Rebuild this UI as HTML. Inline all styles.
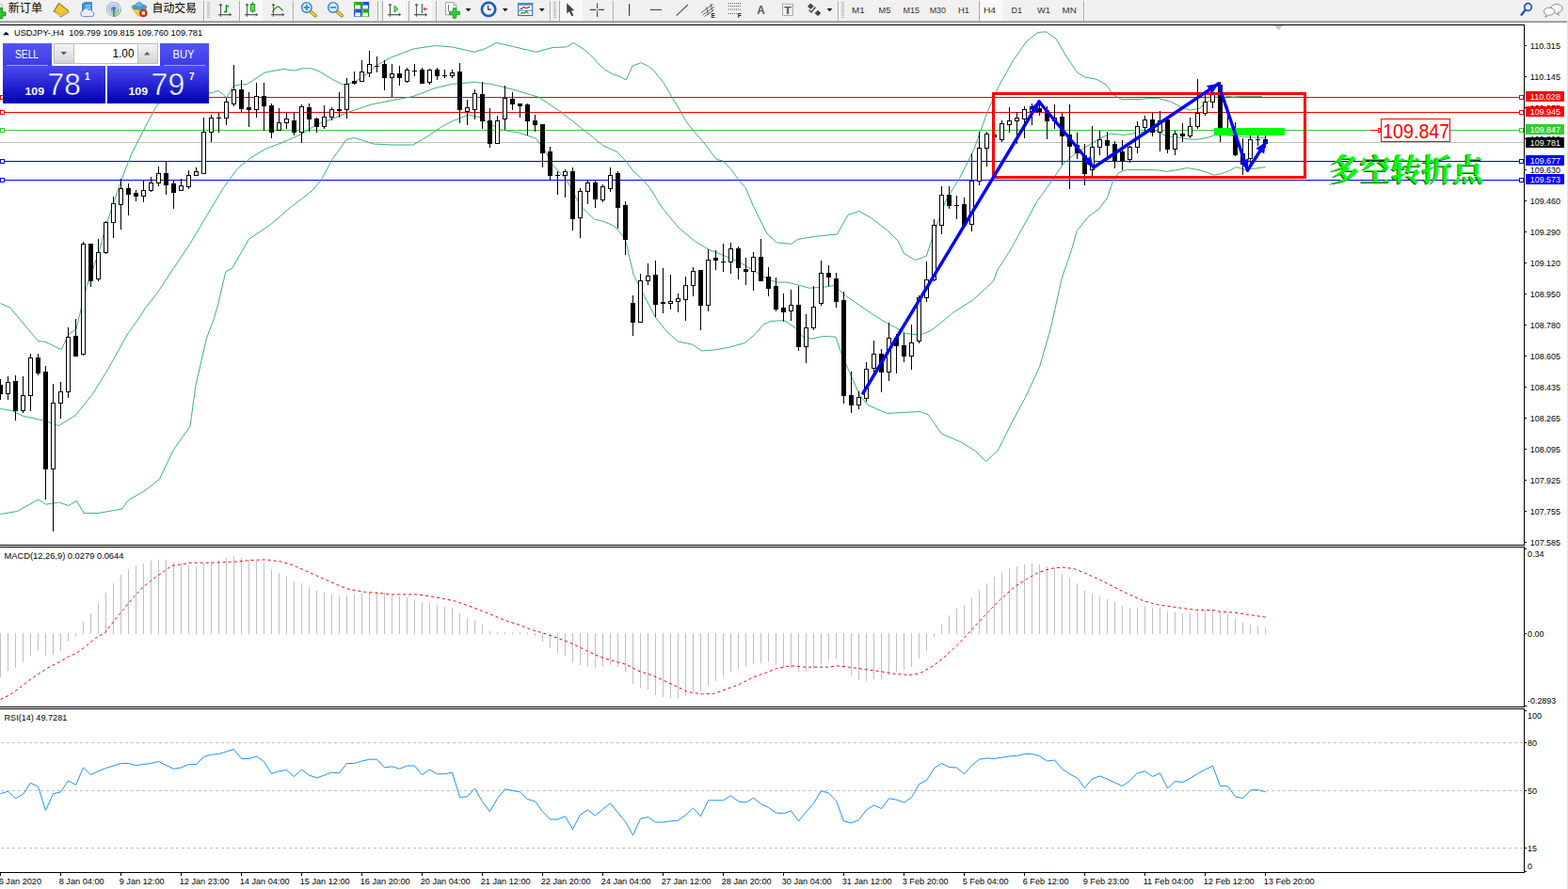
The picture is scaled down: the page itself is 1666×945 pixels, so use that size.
<!DOCTYPE html><html><head><meta charset="utf-8"><title>USDJPY H4</title><style>html,body{margin:0;padding:0;background:#fff}body{width:1666px;height:945px;overflow:hidden;position:relative;font-family:"Liberation Sans",sans-serif}</style></head><body><svg width="1666" height="945" viewBox="0 0 1666 945" font-family="Liberation Sans, sans-serif" style="position:absolute;left:0;top:0">
<defs><linearGradient id="tb" x1="0" y1="0" x2="0" y2="1"><stop offset="0" stop-color="#f3f3f3"/><stop offset="1" stop-color="#eeeeee"/></linearGradient><linearGradient id="pb" x1="0" y1="0" x2="0" y2="1"><stop offset="0" stop-color="#4a4af0"/><stop offset="1" stop-color="#0000b4"/></linearGradient><linearGradient id="pt" x1="0" y1="0" x2="0" y2="1"><stop offset="0" stop-color="#5454f4"/><stop offset="1" stop-color="#3c3ce4"/></linearGradient><linearGradient id="pbu" gradientUnits="userSpaceOnUse" x1="0" y1="70" x2="0" y2="110"><stop offset="0" stop-color="#4a4af0"/><stop offset="1" stop-color="#0000b4"/></linearGradient><linearGradient id="bt" x1="0" y1="0" x2="0" y2="1"><stop offset="0" stop-color="#f4f4f4"/><stop offset="1" stop-color="#d4d4d4"/></linearGradient></defs>
<rect x="0" y="0" width="1666" height="945" fill="#fff" />
<g shape-rendering="crispEdges">
<rect x="0" y="103" width="1619" height="1" fill="#ff0000" />
<rect x="0" y="119" width="1619" height="1" fill="#ff0000" />
<rect x="0" y="138" width="1619" height="1" fill="#32cd32" />
<rect x="0" y="151" width="1619" height="1" fill="#c0c0c0" />
<rect x="0" y="171" width="1619" height="1" fill="#0000ff" />
<rect x="0" y="191" width="1619" height="1" fill="#0000ff" />
</g>
<polyline points="0.5,322.5 10.9,327.2 40.5,362.5 47.9,363.3 65.1,371.5 73.1,355.3 81.1,349.5 86.5,326.5 92.4,303.5 105.1,267.9 113.1,238.3 129.1,190.9 139.5,164.2 154.5,134.5 166.5,112.5 180.5,98.5 195.5,92.5 210.5,97.5 224.8,98.8 232,96.5 236.5,100 240.7,103.8 247.9,91.5 254.5,90 262.3,89.4 269.5,85.1 281,77.2 292.5,75 301.2,73.5 312.7,75 321.4,72.8 331.5,72.8 340.1,76.4 353.1,84.4 363.2,89.4 367.5,90.1 377.5,86.5 386.2,81.5 400.5,69.2 415,61.3 439.5,51.9 462.5,48.5 480.5,50 504.2,55.3 516.1,51.5 527.5,45.5 545.5,49.5 569.5,55.3 587.2,50.5 601.5,50 609.5,45.5 620.9,52.7 630.5,61.7 637.3,69.3 642.4,73.9 650.8,78.6 659.3,81.7 665.2,84.9 672,70.1 681.3,66.7 688.1,70.1 694.9,75.2 705,87.9 713.5,102.3 723.6,119.2 728.7,128.5 737.2,139.5 749,153.1 760.9,169.2 767.7,170.9 777.8,181.1 784.6,191.2 792.2,199.7 800.5,219.4 815.3,249 825.5,257.9 840.5,259.4 847.9,254.4 865.5,251.4 889.4,249 901.2,228.3 913.1,224.5 924.9,231.2 942.5,244.5 954.5,256.5 960.5,269.4 972.4,276.5 984.2,272.4 993.1,245.5 1004.9,213.1 1019.5,189.4 1034.5,159.5 1049.4,118.3 1061.2,91.5 1076.1,64.9 1090.5,44.2 1102.5,34.5 1111.5,33.8 1122,41.2 1132.4,59 1144.2,76.8 1153.1,82.1 1164.9,84.2 1175.3,90.1 1182.5,100.5 1191.5,105.5 1212.4,105.5 1221.2,104.4 1230.5,104.5 1242.4,107.5 1254.2,113.5 1264.5,117.2 1275,115 1279.5,110.5 1290.5,103.5 1301.5,101.9 1310.5,103.1 1319.5,102.4 1340.9,102.4" fill="none" stroke="#3cb371" stroke-width="1" />
<polyline points="0.5,434.5 12.5,436.5 24.2,442.1 47.9,447.5 62.5,452.5 80.5,441.2 98.3,419 113.1,395.3 136.5,353.5 147.2,339 154.5,327.2 166.5,312.4 184.2,285.5 202,259 219.5,229.5 237.5,199.5 252.5,179 267.2,167.2 282,158.3 296.5,152.9 311.5,146.5 320.5,142.5 336.5,132.4 353.1,126.5 368.5,119.9 394.5,111 418.3,106.3 439,102.5 462.5,93.5 480.5,89.4 504.2,87.3 522,89.4 545.5,95.3 572.4,103.3 596.1,119 616.5,135.3 630.5,146.3 640.7,154.8 655.9,161.5 666.1,172.5 672.8,181.9 683,191.2 690.5,199.7 702.5,219.5 720.5,241.5 738.3,256.5 753.1,265.3 767.9,271.2 785.5,278.5 800.5,287.5 815.3,296.5 825.5,300 836.1,300 847.9,302.9 859.5,306.2 874.5,305.3 886.5,303.5 898.3,314.2 913.1,324.5 930.9,336.5 945.5,345.3 950.5,347.5 962.4,354.5 977.2,356.1 989,351.5 1000.5,342.5 1012.5,332.4 1033.5,319 1048.3,305.5 1055.3,299 1060.1,286.5 1073.1,266.5 1087.9,239.5 1102.5,213.1 1117.5,192.4 1129.4,174.5 1141.2,164.2 1153.1,156.5 1167.9,147.9 1179.5,142 1194.5,143.5 1212.4,140.5 1227.2,139 1239.4,144.5 1252.5,146.1 1264.5,148.3 1275,147.9 1283.9,146.1 1289.5,143.9 1300.5,143.5 1320.5,145.5 1344.5,146.5" fill="none" stroke="#3cb371" stroke-width="1" />
<polyline points="0.5,546.5 18.3,543.5 40.5,531 48.8,536.1 62.5,534 73.1,537.5 81.1,532.2 89.1,545.5 104.2,545.5 129.4,541.1 136.5,531.5 154.5,521.2 169.4,509.4 184.2,478.3 202,453.1 207.9,410.1 219.5,359.5 227.2,339 231.5,324.2 239.9,288.5 246.5,285.5 264.2,254.5 287.9,238.3 308.5,220.5 320.5,211.5 332.4,202 341.2,191.5 353.1,169.4 367.9,148.5 376.5,146.5 397.5,153.1 418.3,154 439,154 453.5,145.5 468.5,135.3 480.5,128.8 498.3,122 510.1,124.9 522,132.4 533.5,138.3 551.5,141.2 569.4,147.2 578.3,159 587.2,175.3 602,191.5 616.5,218.3 631.5,233.1 640.5,235.1 652.4,240.1 664.2,253.5 673.1,292 684.9,315.5 696.8,337.9 708.5,352.5 720.5,363.1 735.3,366.1 745.5,372.9 759,372 773.5,369.5 791.5,364.5 802,355.5 810.9,345.3 818.3,341.5 833.1,340.5 844.9,348.3 853.5,358.5 862.5,360.1 874.5,357.5 887.9,358.1 893.5,374.5 901.2,392.5 913.1,419.5 922,430.5 942.5,439.5 950.5,439 977.2,437.5 986.1,440.5 1000.5,461.2 1021.5,470.1 1036.5,479.5 1047.5,490.5 1060.1,479 1074.9,449.5 1089.5,422.5 1104.5,390.1 1116.5,348.5 1128.3,295.3 1138.3,266.5 1144.2,245.5 1156.1,230.5 1167.9,222 1176.5,210.1 1182.5,192.4 1188.5,183.5 1197.5,180.5 1215.3,180.5 1230.5,180.9 1239.4,182.4 1249.5,180.9 1261.5,178.5 1275,180.9 1283.9,183.9 1289.5,186.1 1297.2,184.9 1306.1,181.5 1313.5,177.5 1322.4,180.2 1334.3,179.1 1344.5,177.5" fill="none" stroke="#3cb371" stroke-width="1" />
<g shape-rendering="crispEdges">
<rect x="0" y="403" width="1" height="22" fill="#000" />
<rect x="-2" y="409" width="5" height="10" fill="#000" />
<rect x="8" y="400" width="1" height="25" fill="#000" />
<rect x="6" y="406" width="5" height="13" fill="#000" />
<rect x="7" y="407" width="3" height="11" fill="#fff" />
<rect x="16" y="399" width="1" height="48" fill="#000" />
<rect x="14" y="405" width="5" height="32" fill="#000" />
<rect x="24" y="400" width="1" height="39" fill="#000" />
<rect x="22" y="420" width="5" height="17" fill="#000" />
<rect x="23" y="421" width="3" height="15" fill="#fff" />
<rect x="32" y="376" width="1" height="61" fill="#000" />
<rect x="30" y="380" width="5" height="41" fill="#000" />
<rect x="31" y="381" width="3" height="39" fill="#fff" />
<rect x="40" y="376" width="1" height="23" fill="#000" />
<rect x="38" y="380" width="5" height="17" fill="#000" />
<rect x="48" y="389" width="1" height="142" fill="#000" />
<rect x="46" y="395" width="5" height="104" fill="#000" />
<rect x="56" y="408" width="1" height="157" fill="#000" />
<rect x="54" y="428" width="5" height="71" fill="#000" />
<rect x="55" y="429" width="3" height="69" fill="#fff" />
<rect x="64" y="406" width="1" height="39" fill="#000" />
<rect x="62" y="416" width="5" height="13" fill="#000" />
<rect x="63" y="417" width="3" height="11" fill="#fff" />
<rect x="72" y="348" width="1" height="75" fill="#000" />
<rect x="70" y="358" width="5" height="59" fill="#000" />
<rect x="71" y="359" width="3" height="57" fill="#fff" />
<rect x="80" y="339" width="1" height="40" fill="#000" />
<rect x="78" y="357" width="5" height="22" fill="#000" />
<rect x="88" y="257" width="1" height="121" fill="#000" />
<rect x="86" y="259" width="5" height="118" fill="#000" />
<rect x="87" y="260" width="3" height="116" fill="#fff" />
<rect x="96" y="259" width="1" height="46" fill="#000" />
<rect x="94" y="259" width="5" height="40" fill="#000" />
<rect x="104" y="254" width="1" height="45" fill="#000" />
<rect x="102" y="268" width="5" height="29" fill="#000" />
<rect x="103" y="269" width="3" height="27" fill="#fff" />
<rect x="112" y="235" width="1" height="35" fill="#000" />
<rect x="110" y="236" width="5" height="33" fill="#000" />
<rect x="111" y="237" width="3" height="31" fill="#fff" />
<rect x="120" y="209" width="1" height="44" fill="#000" />
<rect x="118" y="216" width="5" height="21" fill="#000" />
<rect x="119" y="217" width="3" height="19" fill="#fff" />
<rect x="128" y="190" width="1" height="54" fill="#000" />
<rect x="126" y="200" width="5" height="18" fill="#000" />
<rect x="127" y="201" width="3" height="16" fill="#fff" />
<rect x="136" y="195" width="1" height="34" fill="#000" />
<rect x="134" y="200" width="5" height="7" fill="#000" />
<rect x="144" y="202" width="1" height="12" fill="#000" />
<rect x="142" y="205" width="5" height="4" fill="#000" />
<rect x="152" y="192" width="1" height="23" fill="#000" />
<rect x="150" y="202" width="5" height="7" fill="#000" />
<rect x="151" y="203" width="3" height="5" fill="#fff" />
<rect x="160" y="188" width="1" height="16" fill="#000" />
<rect x="158" y="194" width="5" height="9" fill="#000" />
<rect x="159" y="195" width="3" height="7" fill="#fff" />
<rect x="168" y="177" width="1" height="21" fill="#000" />
<rect x="166" y="184" width="5" height="11" fill="#000" />
<rect x="167" y="185" width="3" height="9" fill="#fff" />
<rect x="176" y="171" width="1" height="36" fill="#000" />
<rect x="174" y="184" width="5" height="13" fill="#000" />
<rect x="184" y="192" width="1" height="30" fill="#000" />
<rect x="182" y="195" width="5" height="10" fill="#000" />
<rect x="192" y="190" width="1" height="13" fill="#000" />
<rect x="190" y="197" width="5" height="6" fill="#000" />
<rect x="191" y="198" width="3" height="4" fill="#fff" />
<rect x="200" y="181" width="1" height="20" fill="#000" />
<rect x="198" y="186" width="5" height="13" fill="#000" />
<rect x="199" y="187" width="3" height="11" fill="#fff" />
<rect x="208" y="178" width="1" height="9" fill="#000" />
<rect x="206" y="182" width="5" height="5" fill="#000" />
<rect x="207" y="183" width="3" height="3" fill="#fff" />
<rect x="216" y="125" width="1" height="60" fill="#000" />
<rect x="214" y="140" width="5" height="45" fill="#000" />
<rect x="215" y="141" width="3" height="43" fill="#fff" />
<rect x="224" y="122" width="1" height="29" fill="#000" />
<rect x="222" y="125" width="5" height="16" fill="#000" />
<rect x="223" y="126" width="3" height="14" fill="#fff" />
<rect x="232" y="120" width="1" height="21" fill="#000" />
<rect x="230" y="125" width="5" height="1" fill="#000" />
<rect x="240" y="104" width="1" height="29" fill="#000" />
<rect x="238" y="108" width="5" height="18" fill="#000" />
<rect x="239" y="109" width="3" height="16" fill="#fff" />
<rect x="248" y="69" width="1" height="44" fill="#000" />
<rect x="246" y="95" width="5" height="16" fill="#000" />
<rect x="247" y="96" width="3" height="14" fill="#fff" />
<rect x="256" y="85" width="1" height="34" fill="#000" />
<rect x="254" y="95" width="5" height="21" fill="#000" />
<rect x="264" y="98" width="1" height="37" fill="#000" />
<rect x="262" y="114" width="5" height="3" fill="#000" />
<rect x="272" y="88" width="1" height="37" fill="#000" />
<rect x="270" y="102" width="5" height="15" fill="#000" />
<rect x="271" y="103" width="3" height="13" fill="#fff" />
<rect x="280" y="88" width="1" height="51" fill="#000" />
<rect x="278" y="102" width="5" height="11" fill="#000" />
<rect x="288" y="110" width="1" height="37" fill="#000" />
<rect x="286" y="112" width="5" height="29" fill="#000" />
<rect x="296" y="115" width="1" height="24" fill="#000" />
<rect x="294" y="130" width="5" height="9" fill="#000" />
<rect x="295" y="131" width="3" height="7" fill="#fff" />
<rect x="304" y="120" width="1" height="17" fill="#000" />
<rect x="302" y="126" width="5" height="5" fill="#000" />
<rect x="303" y="127" width="3" height="3" fill="#fff" />
<rect x="312" y="119" width="1" height="25" fill="#000" />
<rect x="310" y="128" width="5" height="13" fill="#000" />
<rect x="320" y="111" width="1" height="41" fill="#000" />
<rect x="318" y="113" width="5" height="28" fill="#000" />
<rect x="319" y="114" width="3" height="26" fill="#fff" />
<rect x="328" y="110" width="1" height="30" fill="#000" />
<rect x="326" y="114" width="5" height="13" fill="#000" />
<rect x="336" y="125" width="1" height="16" fill="#000" />
<rect x="334" y="126" width="5" height="9" fill="#000" />
<rect x="344" y="112" width="1" height="25" fill="#000" />
<rect x="342" y="124" width="5" height="11" fill="#000" />
<rect x="343" y="125" width="3" height="9" fill="#fff" />
<rect x="352" y="114" width="1" height="14" fill="#000" />
<rect x="350" y="116" width="5" height="9" fill="#000" />
<rect x="351" y="117" width="3" height="7" fill="#fff" />
<rect x="360" y="98" width="1" height="27" fill="#000" />
<rect x="358" y="116" width="5" height="2" fill="#000" />
<rect x="368" y="83" width="1" height="43" fill="#000" />
<rect x="366" y="89" width="5" height="28" fill="#000" />
<rect x="367" y="90" width="3" height="26" fill="#fff" />
<rect x="376" y="76" width="1" height="14" fill="#000" />
<rect x="374" y="86" width="5" height="3" fill="#000" />
<rect x="384" y="64" width="1" height="23" fill="#000" />
<rect x="382" y="76" width="5" height="11" fill="#000" />
<rect x="383" y="77" width="3" height="9" fill="#fff" />
<rect x="392" y="54" width="1" height="28" fill="#000" />
<rect x="390" y="68" width="5" height="10" fill="#000" />
<rect x="391" y="69" width="3" height="8" fill="#fff" />
<rect x="400" y="60" width="1" height="17" fill="#000" />
<rect x="398" y="70" width="5" height="1" fill="#000" />
<rect x="408" y="64" width="1" height="32" fill="#000" />
<rect x="406" y="68" width="5" height="15" fill="#000" />
<rect x="416" y="68" width="1" height="35" fill="#000" />
<rect x="414" y="78" width="5" height="5" fill="#000" />
<rect x="415" y="79" width="3" height="3" fill="#fff" />
<rect x="424" y="70" width="1" height="21" fill="#000" />
<rect x="422" y="78" width="5" height="5" fill="#000" />
<rect x="432" y="72" width="1" height="16" fill="#000" />
<rect x="430" y="74" width="5" height="13" fill="#000" />
<rect x="431" y="75" width="3" height="11" fill="#fff" />
<rect x="440" y="68" width="1" height="13" fill="#000" />
<rect x="438" y="75" width="5" height="1" fill="#000" />
<rect x="448" y="72" width="1" height="17" fill="#000" />
<rect x="446" y="74" width="5" height="15" fill="#000" />
<rect x="456" y="73" width="1" height="17" fill="#000" />
<rect x="454" y="74" width="5" height="14" fill="#000" />
<rect x="455" y="75" width="3" height="12" fill="#fff" />
<rect x="464" y="72" width="1" height="13" fill="#000" />
<rect x="462" y="74" width="5" height="7" fill="#000" />
<rect x="472" y="74" width="1" height="9" fill="#000" />
<rect x="470" y="80" width="5" height="1" fill="#000" />
<rect x="480" y="74" width="1" height="9" fill="#000" />
<rect x="478" y="77" width="5" height="4" fill="#000" />
<rect x="479" y="78" width="3" height="2" fill="#fff" />
<rect x="488" y="67" width="1" height="64" fill="#000" />
<rect x="486" y="76" width="5" height="41" fill="#000" />
<rect x="496" y="106" width="1" height="27" fill="#000" />
<rect x="494" y="114" width="5" height="5" fill="#000" />
<rect x="495" y="115" width="3" height="3" fill="#fff" />
<rect x="504" y="95" width="1" height="32" fill="#000" />
<rect x="502" y="99" width="5" height="18" fill="#000" />
<rect x="503" y="100" width="3" height="16" fill="#fff" />
<rect x="512" y="87" width="1" height="50" fill="#000" />
<rect x="510" y="100" width="5" height="29" fill="#000" />
<rect x="520" y="115" width="1" height="42" fill="#000" />
<rect x="518" y="128" width="5" height="25" fill="#000" />
<rect x="528" y="123" width="1" height="30" fill="#000" />
<rect x="526" y="128" width="5" height="25" fill="#000" />
<rect x="527" y="129" width="3" height="23" fill="#fff" />
<rect x="536" y="91" width="1" height="47" fill="#000" />
<rect x="534" y="104" width="5" height="23" fill="#000" />
<rect x="535" y="105" width="3" height="21" fill="#fff" />
<rect x="544" y="98" width="1" height="19" fill="#000" />
<rect x="542" y="105" width="5" height="6" fill="#000" />
<rect x="552" y="110" width="1" height="15" fill="#000" />
<rect x="550" y="110" width="5" height="3" fill="#000" />
<rect x="560" y="110" width="1" height="34" fill="#000" />
<rect x="558" y="111" width="5" height="18" fill="#000" />
<rect x="568" y="122" width="1" height="18" fill="#000" />
<rect x="566" y="128" width="5" height="5" fill="#000" />
<rect x="576" y="132" width="1" height="46" fill="#000" />
<rect x="574" y="132" width="5" height="31" fill="#000" />
<rect x="584" y="156" width="1" height="35" fill="#000" />
<rect x="582" y="161" width="5" height="26" fill="#000" />
<rect x="592" y="182" width="1" height="25" fill="#000" />
<rect x="590" y="186" width="5" height="1" fill="#000" />
<rect x="600" y="180" width="1" height="30" fill="#000" />
<rect x="598" y="182" width="5" height="5" fill="#000" />
<rect x="599" y="183" width="3" height="3" fill="#fff" />
<rect x="608" y="178" width="1" height="67" fill="#000" />
<rect x="606" y="182" width="5" height="51" fill="#000" />
<rect x="616" y="200" width="1" height="53" fill="#000" />
<rect x="614" y="203" width="5" height="29" fill="#000" />
<rect x="615" y="204" width="3" height="27" fill="#fff" />
<rect x="624" y="192" width="1" height="25" fill="#000" />
<rect x="622" y="194" width="5" height="10" fill="#000" />
<rect x="623" y="195" width="3" height="8" fill="#fff" />
<rect x="632" y="192" width="1" height="29" fill="#000" />
<rect x="630" y="194" width="5" height="18" fill="#000" />
<rect x="640" y="196" width="1" height="19" fill="#000" />
<rect x="638" y="198" width="5" height="15" fill="#000" />
<rect x="639" y="199" width="3" height="13" fill="#fff" />
<rect x="648" y="178" width="1" height="26" fill="#000" />
<rect x="646" y="186" width="5" height="15" fill="#000" />
<rect x="647" y="187" width="3" height="13" fill="#fff" />
<rect x="656" y="182" width="1" height="61" fill="#000" />
<rect x="654" y="184" width="5" height="37" fill="#000" />
<rect x="664" y="214" width="1" height="57" fill="#000" />
<rect x="662" y="218" width="5" height="37" fill="#000" />
<rect x="672" y="314" width="1" height="43" fill="#000" />
<rect x="670" y="322" width="5" height="21" fill="#000" />
<rect x="680" y="291" width="1" height="52" fill="#000" />
<rect x="678" y="298" width="5" height="45" fill="#000" />
<rect x="679" y="299" width="3" height="43" fill="#fff" />
<rect x="688" y="280" width="1" height="23" fill="#000" />
<rect x="686" y="293" width="5" height="6" fill="#000" />
<rect x="687" y="294" width="3" height="4" fill="#fff" />
<rect x="696" y="277" width="1" height="60" fill="#000" />
<rect x="694" y="292" width="5" height="32" fill="#000" />
<rect x="704" y="285" width="1" height="48" fill="#000" />
<rect x="702" y="321" width="5" height="2" fill="#000" />
<rect x="712" y="292" width="1" height="37" fill="#000" />
<rect x="710" y="320" width="5" height="3" fill="#000" />
<rect x="711" y="321" width="3" height="1" fill="#fff" />
<rect x="720" y="312" width="1" height="20" fill="#000" />
<rect x="718" y="317" width="5" height="4" fill="#000" />
<rect x="719" y="318" width="3" height="2" fill="#fff" />
<rect x="728" y="294" width="1" height="47" fill="#000" />
<rect x="726" y="303" width="5" height="16" fill="#000" />
<rect x="727" y="304" width="3" height="14" fill="#fff" />
<rect x="736" y="284" width="1" height="31" fill="#000" />
<rect x="734" y="288" width="5" height="16" fill="#000" />
<rect x="735" y="289" width="3" height="14" fill="#fff" />
<rect x="744" y="287" width="1" height="64" fill="#000" />
<rect x="742" y="287" width="5" height="38" fill="#000" />
<rect x="752" y="265" width="1" height="66" fill="#000" />
<rect x="750" y="276" width="5" height="49" fill="#000" />
<rect x="751" y="277" width="3" height="47" fill="#fff" />
<rect x="760" y="266" width="1" height="21" fill="#000" />
<rect x="758" y="274" width="5" height="3" fill="#000" />
<rect x="768" y="259" width="1" height="30" fill="#000" />
<rect x="766" y="278" width="5" height="1" fill="#000" />
<rect x="776" y="258" width="1" height="33" fill="#000" />
<rect x="774" y="264" width="5" height="15" fill="#000" />
<rect x="775" y="265" width="3" height="13" fill="#fff" />
<rect x="784" y="262" width="1" height="35" fill="#000" />
<rect x="782" y="264" width="5" height="21" fill="#000" />
<rect x="792" y="274" width="1" height="29" fill="#000" />
<rect x="790" y="286" width="5" height="3" fill="#000" />
<rect x="800" y="268" width="1" height="41" fill="#000" />
<rect x="798" y="273" width="5" height="16" fill="#000" />
<rect x="799" y="274" width="3" height="14" fill="#fff" />
<rect x="808" y="254" width="1" height="45" fill="#000" />
<rect x="806" y="273" width="5" height="26" fill="#000" />
<rect x="816" y="284" width="1" height="31" fill="#000" />
<rect x="814" y="294" width="5" height="13" fill="#000" />
<rect x="824" y="295" width="1" height="36" fill="#000" />
<rect x="822" y="304" width="5" height="25" fill="#000" />
<rect x="832" y="312" width="1" height="30" fill="#000" />
<rect x="830" y="327" width="5" height="5" fill="#000" />
<rect x="840" y="308" width="1" height="33" fill="#000" />
<rect x="838" y="324" width="5" height="7" fill="#000" />
<rect x="839" y="325" width="3" height="5" fill="#fff" />
<rect x="848" y="304" width="1" height="69" fill="#000" />
<rect x="846" y="324" width="5" height="45" fill="#000" />
<rect x="856" y="334" width="1" height="52" fill="#000" />
<rect x="854" y="348" width="5" height="21" fill="#000" />
<rect x="855" y="349" width="3" height="19" fill="#fff" />
<rect x="864" y="304" width="1" height="47" fill="#000" />
<rect x="862" y="326" width="5" height="23" fill="#000" />
<rect x="863" y="327" width="3" height="21" fill="#fff" />
<rect x="872" y="277" width="1" height="48" fill="#000" />
<rect x="870" y="290" width="5" height="33" fill="#000" />
<rect x="871" y="291" width="3" height="31" fill="#fff" />
<rect x="880" y="282" width="1" height="22" fill="#000" />
<rect x="878" y="290" width="5" height="5" fill="#000" />
<rect x="888" y="290" width="1" height="37" fill="#000" />
<rect x="886" y="296" width="5" height="25" fill="#000" />
<rect x="896" y="310" width="1" height="119" fill="#000" />
<rect x="894" y="319" width="5" height="102" fill="#000" />
<rect x="904" y="395" width="1" height="44" fill="#000" />
<rect x="902" y="420" width="5" height="11" fill="#000" />
<rect x="912" y="416" width="1" height="19" fill="#000" />
<rect x="910" y="422" width="5" height="9" fill="#000" />
<rect x="911" y="423" width="3" height="7" fill="#fff" />
<rect x="920" y="385" width="1" height="42" fill="#000" />
<rect x="918" y="392" width="5" height="32" fill="#000" />
<rect x="919" y="393" width="3" height="30" fill="#fff" />
<rect x="928" y="362" width="1" height="37" fill="#000" />
<rect x="926" y="376" width="5" height="16" fill="#000" />
<rect x="927" y="377" width="3" height="14" fill="#fff" />
<rect x="936" y="371" width="1" height="46" fill="#000" />
<rect x="934" y="376" width="5" height="20" fill="#000" />
<rect x="944" y="343" width="1" height="62" fill="#000" />
<rect x="942" y="359" width="5" height="37" fill="#000" />
<rect x="943" y="360" width="3" height="35" fill="#fff" />
<rect x="952" y="355" width="1" height="42" fill="#000" />
<rect x="950" y="359" width="5" height="9" fill="#000" />
<rect x="960" y="354" width="1" height="31" fill="#000" />
<rect x="958" y="367" width="5" height="12" fill="#000" />
<rect x="968" y="345" width="1" height="48" fill="#000" />
<rect x="966" y="364" width="5" height="15" fill="#000" />
<rect x="967" y="365" width="3" height="13" fill="#fff" />
<rect x="976" y="314" width="1" height="51" fill="#000" />
<rect x="974" y="316" width="5" height="47" fill="#000" />
<rect x="975" y="317" width="3" height="45" fill="#fff" />
<rect x="984" y="278" width="1" height="43" fill="#000" />
<rect x="982" y="297" width="5" height="20" fill="#000" />
<rect x="983" y="298" width="3" height="18" fill="#fff" />
<rect x="992" y="233" width="1" height="66" fill="#000" />
<rect x="990" y="239" width="5" height="59" fill="#000" />
<rect x="991" y="240" width="3" height="57" fill="#fff" />
<rect x="1000" y="198" width="1" height="51" fill="#000" />
<rect x="998" y="207" width="5" height="33" fill="#000" />
<rect x="999" y="208" width="3" height="31" fill="#fff" />
<rect x="1008" y="198" width="1" height="24" fill="#000" />
<rect x="1006" y="207" width="5" height="12" fill="#000" />
<rect x="1016" y="208" width="1" height="25" fill="#000" />
<rect x="1014" y="218" width="5" height="1" fill="#000" />
<rect x="1024" y="210" width="1" height="31" fill="#000" />
<rect x="1022" y="217" width="5" height="23" fill="#000" />
<rect x="1032" y="163" width="1" height="83" fill="#000" />
<rect x="1030" y="192" width="5" height="47" fill="#000" />
<rect x="1031" y="193" width="3" height="45" fill="#fff" />
<rect x="1040" y="140" width="1" height="57" fill="#000" />
<rect x="1038" y="157" width="5" height="36" fill="#000" />
<rect x="1039" y="158" width="3" height="34" fill="#fff" />
<rect x="1048" y="140" width="1" height="37" fill="#000" />
<rect x="1046" y="142" width="5" height="16" fill="#000" />
<rect x="1047" y="143" width="3" height="14" fill="#fff" />
<rect x="1056" y="140" width="1" height="8" fill="#000" />
<rect x="1054" y="143" width="5" height="3" fill="#000" />
<rect x="1064" y="128" width="1" height="23" fill="#000" />
<rect x="1062" y="131" width="5" height="18" fill="#000" />
<rect x="1063" y="132" width="3" height="16" fill="#fff" />
<rect x="1072" y="114" width="1" height="27" fill="#000" />
<rect x="1070" y="128" width="5" height="5" fill="#000" />
<rect x="1071" y="129" width="3" height="3" fill="#fff" />
<rect x="1080" y="119" width="1" height="34" fill="#000" />
<rect x="1078" y="125" width="5" height="4" fill="#000" />
<rect x="1079" y="126" width="3" height="2" fill="#fff" />
<rect x="1088" y="113" width="1" height="34" fill="#000" />
<rect x="1086" y="116" width="5" height="11" fill="#000" />
<rect x="1087" y="117" width="3" height="9" fill="#fff" />
<rect x="1096" y="110" width="1" height="23" fill="#000" />
<rect x="1094" y="113" width="5" height="6" fill="#000" />
<rect x="1095" y="114" width="3" height="4" fill="#fff" />
<rect x="1104" y="108" width="1" height="15" fill="#000" />
<rect x="1102" y="115" width="5" height="4" fill="#000" />
<rect x="1112" y="113" width="1" height="35" fill="#000" />
<rect x="1110" y="117" width="5" height="12" fill="#000" />
<rect x="1120" y="111" width="1" height="26" fill="#000" />
<rect x="1118" y="125" width="5" height="4" fill="#000" />
<rect x="1119" y="126" width="3" height="2" fill="#fff" />
<rect x="1128" y="120" width="1" height="55" fill="#000" />
<rect x="1126" y="124" width="5" height="21" fill="#000" />
<rect x="1136" y="111" width="1" height="90" fill="#000" />
<rect x="1134" y="143" width="5" height="13" fill="#000" />
<rect x="1144" y="141" width="1" height="28" fill="#000" />
<rect x="1142" y="154" width="5" height="9" fill="#000" />
<rect x="1152" y="153" width="1" height="44" fill="#000" />
<rect x="1150" y="165" width="5" height="20" fill="#000" />
<rect x="1160" y="134" width="1" height="53" fill="#000" />
<rect x="1158" y="156" width="5" height="25" fill="#000" />
<rect x="1159" y="157" width="3" height="23" fill="#fff" />
<rect x="1168" y="139" width="1" height="26" fill="#000" />
<rect x="1166" y="148" width="5" height="9" fill="#000" />
<rect x="1167" y="149" width="3" height="7" fill="#fff" />
<rect x="1176" y="140" width="1" height="28" fill="#000" />
<rect x="1174" y="149" width="5" height="6" fill="#000" />
<rect x="1184" y="150" width="1" height="29" fill="#000" />
<rect x="1182" y="153" width="5" height="18" fill="#000" />
<rect x="1192" y="149" width="1" height="32" fill="#000" />
<rect x="1190" y="161" width="5" height="10" fill="#000" />
<rect x="1200" y="155" width="1" height="18" fill="#000" />
<rect x="1198" y="156" width="5" height="14" fill="#000" />
<rect x="1199" y="157" width="3" height="12" fill="#fff" />
<rect x="1208" y="129" width="1" height="34" fill="#000" />
<rect x="1206" y="134" width="5" height="23" fill="#000" />
<rect x="1207" y="135" width="3" height="21" fill="#fff" />
<rect x="1216" y="123" width="1" height="17" fill="#000" />
<rect x="1214" y="127" width="5" height="9" fill="#000" />
<rect x="1215" y="128" width="3" height="7" fill="#fff" />
<rect x="1224" y="120" width="1" height="25" fill="#000" />
<rect x="1222" y="127" width="5" height="14" fill="#000" />
<rect x="1232" y="118" width="1" height="43" fill="#000" />
<rect x="1230" y="128" width="5" height="13" fill="#000" />
<rect x="1231" y="129" width="3" height="11" fill="#fff" />
<rect x="1240" y="125" width="1" height="38" fill="#000" />
<rect x="1238" y="127" width="5" height="32" fill="#000" />
<rect x="1248" y="139" width="1" height="26" fill="#000" />
<rect x="1246" y="142" width="5" height="17" fill="#000" />
<rect x="1247" y="143" width="3" height="15" fill="#fff" />
<rect x="1256" y="131" width="1" height="20" fill="#000" />
<rect x="1254" y="142" width="5" height="3" fill="#000" />
<rect x="1264" y="125" width="1" height="22" fill="#000" />
<rect x="1262" y="134" width="5" height="11" fill="#000" />
<rect x="1263" y="135" width="3" height="9" fill="#fff" />
<rect x="1272" y="84" width="1" height="53" fill="#000" />
<rect x="1270" y="120" width="5" height="15" fill="#000" />
<rect x="1271" y="121" width="3" height="13" fill="#fff" />
<rect x="1280" y="101" width="1" height="22" fill="#000" />
<rect x="1278" y="108" width="5" height="13" fill="#000" />
<rect x="1279" y="109" width="3" height="11" fill="#fff" />
<rect x="1288" y="95" width="1" height="20" fill="#000" />
<rect x="1286" y="100" width="5" height="9" fill="#000" />
<rect x="1287" y="101" width="3" height="7" fill="#fff" />
<rect x="1296" y="87" width="1" height="64" fill="#000" />
<rect x="1294" y="90" width="5" height="47" fill="#000" />
<rect x="1304" y="113" width="1" height="28" fill="#000" />
<rect x="1302" y="136" width="5" height="1" fill="#000" />
<rect x="1312" y="130" width="1" height="36" fill="#000" />
<rect x="1310" y="136" width="5" height="29" fill="#000" />
<rect x="1320" y="147" width="1" height="39" fill="#000" />
<rect x="1318" y="163" width="5" height="12" fill="#000" />
<rect x="1328" y="144" width="1" height="31" fill="#000" />
<rect x="1326" y="148" width="5" height="21" fill="#000" />
<rect x="1327" y="149" width="3" height="19" fill="#fff" />
<rect x="1336" y="144" width="1" height="11" fill="#000" />
<rect x="1334" y="148" width="5" height="1" fill="#000" />
<rect x="1344" y="144" width="1" height="13" fill="#000" />
<rect x="1342" y="148" width="5" height="5" fill="#000" />
</g>
<rect x="1055.5" y="99.5" width="331" height="89" fill="none" stroke="#ff0000" stroke-width="3" shape-rendering="crispEdges"/>
<rect x="1290" y="136" width="75" height="8" fill="#00ff00" shape-rendering="crispEdges"/>
<line x1="917" y1="418" x2="1104" y2="108" stroke="#0000ff" stroke-width="3.4" stroke-linecap="round"/>
<polygon points="1104,108 1102.5,120.5 1093.6,115.2" fill="#0000ff"/>
<line x1="1104" y1="108" x2="1162" y2="178" stroke="#0000ff" stroke-width="3.4" stroke-linecap="round"/>
<polygon points="1162,178 1150.7,172.5 1158.7,165.8" fill="#0000ff"/>
<line x1="1162" y1="178" x2="1294.5" y2="89" stroke="#0000ff" stroke-width="3.4" stroke-linecap="round"/>
<polygon points="1294.5,89 1287.9,99.7 1282.1,91.1" fill="#0000ff"/>
<line x1="1294.5" y1="89" x2="1325.5" y2="181" stroke="#0000ff" stroke-width="3.4" stroke-linecap="round"/>
<polygon points="1325.5,181 1316.9,171.8 1326.8,168.4" fill="#0000ff"/>
<line x1="1325.5" y1="181" x2="1345" y2="151" stroke="#0000ff" stroke-width="3.4" stroke-linecap="round"/>
<polygon points="1345,151 1343.1,163.5 1334.4,157.8" fill="#0000ff"/>
<g shape-rendering="crispEdges">
<rect x="0" y="673" width="1" height="47" fill="#c0c0c0" />
<rect x="8" y="673" width="1" height="40" fill="#c0c0c0" />
<rect x="16" y="673" width="1" height="37" fill="#c0c0c0" />
<rect x="24" y="673" width="1" height="31" fill="#c0c0c0" />
<rect x="32" y="673" width="1" height="24" fill="#c0c0c0" />
<rect x="40" y="673" width="1" height="19" fill="#c0c0c0" />
<rect x="48" y="673" width="1" height="24" fill="#c0c0c0" />
<rect x="56" y="673" width="1" height="23" fill="#c0c0c0" />
<rect x="64" y="673" width="1" height="19" fill="#c0c0c0" />
<rect x="72" y="673" width="1" height="9" fill="#c0c0c0" />
<rect x="80" y="673" width="1" height="4" fill="#c0c0c0" />
<rect x="88" y="661" width="1" height="13" fill="#c0c0c0" />
<rect x="96" y="652" width="1" height="22" fill="#c0c0c0" />
<rect x="104" y="641" width="1" height="33" fill="#c0c0c0" />
<rect x="112" y="630" width="1" height="44" fill="#c0c0c0" />
<rect x="120" y="620" width="1" height="54" fill="#c0c0c0" />
<rect x="128" y="611" width="1" height="63" fill="#c0c0c0" />
<rect x="136" y="605" width="1" height="69" fill="#c0c0c0" />
<rect x="144" y="601" width="1" height="73" fill="#c0c0c0" />
<rect x="152" y="599" width="1" height="75" fill="#c0c0c0" />
<rect x="160" y="596" width="1" height="78" fill="#c0c0c0" />
<rect x="168" y="595" width="1" height="79" fill="#c0c0c0" />
<rect x="176" y="595" width="1" height="79" fill="#c0c0c0" />
<rect x="184" y="598" width="1" height="76" fill="#c0c0c0" />
<rect x="192" y="599" width="1" height="75" fill="#c0c0c0" />
<rect x="200" y="601" width="1" height="73" fill="#c0c0c0" />
<rect x="208" y="602" width="1" height="72" fill="#c0c0c0" />
<rect x="216" y="599" width="1" height="75" fill="#c0c0c0" />
<rect x="224" y="597" width="1" height="77" fill="#c0c0c0" />
<rect x="232" y="595" width="1" height="79" fill="#c0c0c0" />
<rect x="240" y="593" width="1" height="81" fill="#c0c0c0" />
<rect x="248" y="591" width="1" height="83" fill="#c0c0c0" />
<rect x="256" y="593" width="1" height="81" fill="#c0c0c0" />
<rect x="264" y="595" width="1" height="79" fill="#c0c0c0" />
<rect x="272" y="596" width="1" height="78" fill="#c0c0c0" />
<rect x="280" y="598" width="1" height="76" fill="#c0c0c0" />
<rect x="288" y="605" width="1" height="69" fill="#c0c0c0" />
<rect x="296" y="609" width="1" height="65" fill="#c0c0c0" />
<rect x="304" y="613" width="1" height="61" fill="#c0c0c0" />
<rect x="312" y="618" width="1" height="56" fill="#c0c0c0" />
<rect x="320" y="620" width="1" height="54" fill="#c0c0c0" />
<rect x="328" y="624" width="1" height="50" fill="#c0c0c0" />
<rect x="336" y="628" width="1" height="46" fill="#c0c0c0" />
<rect x="344" y="630" width="1" height="44" fill="#c0c0c0" />
<rect x="352" y="632" width="1" height="42" fill="#c0c0c0" />
<rect x="360" y="634" width="1" height="40" fill="#c0c0c0" />
<rect x="368" y="633" width="1" height="41" fill="#c0c0c0" />
<rect x="376" y="632" width="1" height="42" fill="#c0c0c0" />
<rect x="384" y="631" width="1" height="43" fill="#c0c0c0" />
<rect x="392" y="630" width="1" height="44" fill="#c0c0c0" />
<rect x="400" y="629" width="1" height="45" fill="#c0c0c0" />
<rect x="408" y="630" width="1" height="44" fill="#c0c0c0" />
<rect x="416" y="632" width="1" height="42" fill="#c0c0c0" />
<rect x="424" y="634" width="1" height="40" fill="#c0c0c0" />
<rect x="432" y="635" width="1" height="39" fill="#c0c0c0" />
<rect x="440" y="637" width="1" height="37" fill="#c0c0c0" />
<rect x="448" y="640" width="1" height="34" fill="#c0c0c0" />
<rect x="456" y="641" width="1" height="33" fill="#c0c0c0" />
<rect x="464" y="643" width="1" height="31" fill="#c0c0c0" />
<rect x="472" y="645" width="1" height="29" fill="#c0c0c0" />
<rect x="480" y="646" width="1" height="28" fill="#c0c0c0" />
<rect x="488" y="652" width="1" height="22" fill="#c0c0c0" />
<rect x="496" y="657" width="1" height="17" fill="#c0c0c0" />
<rect x="504" y="659" width="1" height="15" fill="#c0c0c0" />
<rect x="512" y="664" width="1" height="10" fill="#c0c0c0" />
<rect x="520" y="671" width="1" height="3" fill="#c0c0c0" />
<rect x="528" y="672" width="1" height="2" fill="#c0c0c0" />
<rect x="536" y="672" width="1" height="2" fill="#c0c0c0" />
<rect x="544" y="672" width="1" height="2" fill="#c0c0c0" />
<rect x="552" y="672" width="1" height="2" fill="#c0c0c0" />
<rect x="560" y="672" width="1" height="2" fill="#c0c0c0" />
<rect x="568" y="673" width="1" height="3" fill="#c0c0c0" />
<rect x="576" y="673" width="1" height="9" fill="#c0c0c0" />
<rect x="584" y="673" width="1" height="16" fill="#c0c0c0" />
<rect x="592" y="673" width="1" height="21" fill="#c0c0c0" />
<rect x="600" y="673" width="1" height="24" fill="#c0c0c0" />
<rect x="608" y="673" width="1" height="31" fill="#c0c0c0" />
<rect x="616" y="673" width="1" height="34" fill="#c0c0c0" />
<rect x="624" y="673" width="1" height="35" fill="#c0c0c0" />
<rect x="632" y="673" width="1" height="37" fill="#c0c0c0" />
<rect x="640" y="673" width="1" height="36" fill="#c0c0c0" />
<rect x="648" y="673" width="1" height="34" fill="#c0c0c0" />
<rect x="656" y="673" width="1" height="36" fill="#c0c0c0" />
<rect x="664" y="673" width="1" height="41" fill="#c0c0c0" />
<rect x="672" y="673" width="1" height="54" fill="#c0c0c0" />
<rect x="680" y="673" width="1" height="58" fill="#c0c0c0" />
<rect x="688" y="673" width="1" height="60" fill="#c0c0c0" />
<rect x="696" y="673" width="1" height="66" fill="#c0c0c0" />
<rect x="704" y="673" width="1" height="68" fill="#c0c0c0" />
<rect x="712" y="673" width="1" height="69" fill="#c0c0c0" />
<rect x="720" y="673" width="1" height="69" fill="#c0c0c0" />
<rect x="728" y="673" width="1" height="67" fill="#c0c0c0" />
<rect x="736" y="673" width="1" height="62" fill="#c0c0c0" />
<rect x="744" y="673" width="1" height="62" fill="#c0c0c0" />
<rect x="752" y="673" width="1" height="56" fill="#c0c0c0" />
<rect x="760" y="673" width="1" height="51" fill="#c0c0c0" />
<rect x="768" y="673" width="1" height="46" fill="#c0c0c0" />
<rect x="776" y="673" width="1" height="41" fill="#c0c0c0" />
<rect x="784" y="673" width="1" height="38" fill="#c0c0c0" />
<rect x="792" y="673" width="1" height="36" fill="#c0c0c0" />
<rect x="800" y="673" width="1" height="32" fill="#c0c0c0" />
<rect x="808" y="673" width="1" height="32" fill="#c0c0c0" />
<rect x="816" y="673" width="1" height="31" fill="#c0c0c0" />
<rect x="824" y="673" width="1" height="34" fill="#c0c0c0" />
<rect x="832" y="673" width="1" height="36" fill="#c0c0c0" />
<rect x="840" y="673" width="1" height="37" fill="#c0c0c0" />
<rect x="848" y="673" width="1" height="41" fill="#c0c0c0" />
<rect x="856" y="673" width="1" height="41" fill="#c0c0c0" />
<rect x="864" y="673" width="1" height="38" fill="#c0c0c0" />
<rect x="872" y="673" width="1" height="33" fill="#c0c0c0" />
<rect x="880" y="673" width="1" height="29" fill="#c0c0c0" />
<rect x="888" y="673" width="1" height="27" fill="#c0c0c0" />
<rect x="896" y="673" width="1" height="37" fill="#c0c0c0" />
<rect x="904" y="673" width="1" height="45" fill="#c0c0c0" />
<rect x="912" y="673" width="1" height="50" fill="#c0c0c0" />
<rect x="920" y="673" width="1" height="51" fill="#c0c0c0" />
<rect x="928" y="673" width="1" height="49" fill="#c0c0c0" />
<rect x="936" y="673" width="1" height="49" fill="#c0c0c0" />
<rect x="944" y="673" width="1" height="45" fill="#c0c0c0" />
<rect x="952" y="673" width="1" height="41" fill="#c0c0c0" />
<rect x="960" y="673" width="1" height="39" fill="#c0c0c0" />
<rect x="968" y="673" width="1" height="36" fill="#c0c0c0" />
<rect x="976" y="673" width="1" height="27" fill="#c0c0c0" />
<rect x="984" y="673" width="1" height="19" fill="#c0c0c0" />
<rect x="992" y="673" width="1" height="4" fill="#c0c0c0" />
<rect x="1000" y="664" width="1" height="10" fill="#c0c0c0" />
<rect x="1008" y="654" width="1" height="20" fill="#c0c0c0" />
<rect x="1016" y="647" width="1" height="27" fill="#c0c0c0" />
<rect x="1024" y="643" width="1" height="31" fill="#c0c0c0" />
<rect x="1032" y="636" width="1" height="38" fill="#c0c0c0" />
<rect x="1040" y="627" width="1" height="47" fill="#c0c0c0" />
<rect x="1048" y="620" width="1" height="54" fill="#c0c0c0" />
<rect x="1056" y="613" width="1" height="61" fill="#c0c0c0" />
<rect x="1064" y="608" width="1" height="66" fill="#c0c0c0" />
<rect x="1072" y="604" width="1" height="70" fill="#c0c0c0" />
<rect x="1080" y="602" width="1" height="72" fill="#c0c0c0" />
<rect x="1088" y="600" width="1" height="74" fill="#c0c0c0" />
<rect x="1096" y="599" width="1" height="75" fill="#c0c0c0" />
<rect x="1104" y="600" width="1" height="74" fill="#c0c0c0" />
<rect x="1112" y="602" width="1" height="72" fill="#c0c0c0" />
<rect x="1120" y="604" width="1" height="70" fill="#c0c0c0" />
<rect x="1128" y="610" width="1" height="64" fill="#c0c0c0" />
<rect x="1136" y="614" width="1" height="60" fill="#c0c0c0" />
<rect x="1144" y="620" width="1" height="54" fill="#c0c0c0" />
<rect x="1152" y="628" width="1" height="46" fill="#c0c0c0" />
<rect x="1160" y="631" width="1" height="43" fill="#c0c0c0" />
<rect x="1168" y="634" width="1" height="40" fill="#c0c0c0" />
<rect x="1176" y="637" width="1" height="37" fill="#c0c0c0" />
<rect x="1184" y="640" width="1" height="34" fill="#c0c0c0" />
<rect x="1192" y="644" width="1" height="30" fill="#c0c0c0" />
<rect x="1200" y="646" width="1" height="28" fill="#c0c0c0" />
<rect x="1208" y="646" width="1" height="28" fill="#c0c0c0" />
<rect x="1216" y="645" width="1" height="29" fill="#c0c0c0" />
<rect x="1224" y="646" width="1" height="28" fill="#c0c0c0" />
<rect x="1232" y="646" width="1" height="28" fill="#c0c0c0" />
<rect x="1240" y="650" width="1" height="24" fill="#c0c0c0" />
<rect x="1248" y="651" width="1" height="23" fill="#c0c0c0" />
<rect x="1256" y="652" width="1" height="22" fill="#c0c0c0" />
<rect x="1264" y="652" width="1" height="22" fill="#c0c0c0" />
<rect x="1272" y="651" width="1" height="23" fill="#c0c0c0" />
<rect x="1280" y="649" width="1" height="25" fill="#c0c0c0" />
<rect x="1288" y="648" width="1" height="26" fill="#c0c0c0" />
<rect x="1296" y="650" width="1" height="24" fill="#c0c0c0" />
<rect x="1304" y="652" width="1" height="22" fill="#c0c0c0" />
<rect x="1312" y="657" width="1" height="17" fill="#c0c0c0" />
<rect x="1320" y="662" width="1" height="12" fill="#c0c0c0" />
<rect x="1328" y="664" width="1" height="10" fill="#c0c0c0" />
<rect x="1336" y="665" width="1" height="9" fill="#c0c0c0" />
<rect x="1344" y="667" width="1" height="7" fill="#c0c0c0" />
</g>
<polyline points="0.5,743.5 10.5,738.5 20.5,731.5 30.5,723.5 43.5,714.5 53.5,708.3 63.5,703.5 73.5,697.5 81.2,694.5 91.2,686.9 101.3,678.5 111.5,672.5 121.5,659.5 131.5,647.5 141.5,635.2 151.5,624.5 161.5,616.3 171.5,609.3 182,601.5 192.1,599.9 202.2,598.2 227.4,598.2 252.5,596.9 265.2,595.5 282.5,594.9 298,596.9 310.5,600.5 328.2,608.2 343.3,615.1 355.9,620.5 368.5,625.9 388.5,629.4 403.5,630.5 415.5,631.9 443.4,631.9 461,634.5 483.5,639 501.3,645.3 519,652.1 536.5,659.5 551.5,664.2 564.4,669.3 577,673 592.1,678.1 607.2,683.9 622.3,691.2 637.5,698.2 652.5,702.8 665.2,706.3 677.8,712.9 692.9,717.9 708.1,724.7 720.5,730.5 730.5,735.5 745.9,737.8 758.5,737.3 771.1,732.8 786.2,727.2 800.5,719.7 813.1,715.4 825.7,710.3 840.8,707.8 856,709.1 881.2,709.1 888.5,707.8 901.3,709.1 919,711.5 936.5,713.9 951.5,716.5 966.9,717.5 977,715.9 992.1,707.5 1002.2,699.5 1017.3,685.5 1032.5,669.3 1047.5,652.9 1062.5,637.7 1077.8,623.9 1090.5,615.8 1103,608.7 1115.5,604.5 1128.2,603 1140.8,604.5 1153.5,609.5 1166,615.1 1178.5,621.4 1193.1,628.9 1205.5,634.5 1215.5,639 1230.5,642.8 1251.1,645.8 1271.2,648.5 1288.9,648.5 1296.5,650.3 1311.5,651.1 1326.5,653.4 1344.5,656.1" fill="none" stroke="#ff0000" stroke-width="1" stroke-dasharray="3 3"/>
<g shape-rendering="crispEdges">
<line x1="1" y1="789.5" x2="1619" y2="789.5" stroke="#c0c0c0" stroke-width="1" stroke-dasharray="3 3"/>
<line x1="1" y1="840.5" x2="1619" y2="840.5" stroke="#c0c0c0" stroke-width="1" stroke-dasharray="3 3"/>
<line x1="1" y1="901.5" x2="1619" y2="901.5" stroke="#c0c0c0" stroke-width="1" stroke-dasharray="3 3"/>
</g>
<polyline points="0.5,843.8 8.5,841.2 16.5,848.8 24.5,844.3 32.5,832.4 40.5,836.2 48.5,861.4 56.5,843.8 64.5,841.8 72.5,829.9 80.5,834.4 88.5,816 96.5,823.5 104.5,819.8 112.5,816.5 120.5,814 128.5,811.5 136.5,811.5 144.5,813.5 152.5,812.5 160.5,811.5 168.5,809.5 176.5,813.5 184.5,817.3 192.5,816 200.5,812.5 208.5,812.5 216.5,804.5 224.5,802.2 232.5,801.5 240.5,798.9 248.5,796.5 256.5,806.5 264.5,806.5 272.5,803.9 280.5,809.5 288.5,822.5 296.5,819.8 304.5,818.5 312.5,825.5 320.5,818.1 328.5,824.1 336.5,826.9 344.5,824.1 352.5,821.1 360.5,821.8 368.5,811.5 376.5,811.5 384.5,809 392.5,807.2 400.5,807.2 408.5,816 416.5,814.8 424.5,817.3 432.5,814 440.5,814 448.5,823.5 456.5,818.1 464.5,822.8 472.5,822.8 480.5,821.1 488.5,847.5 496.5,846.8 504.5,838 512.5,852.1 520.5,862.7 528.5,848.8 536.5,838.7 544.5,840.5 552.5,841.8 560.5,849.5 568.5,851.8 576.5,862.7 584.5,871 592.5,871 600.5,867.7 608.5,881.5 616.5,866 624.5,860.9 632.5,867 640.5,860.2 648.5,853.9 656.5,863.9 664.5,873.5 672.5,887.9 680.5,870.2 688.5,868.5 696.5,874 704.5,874 712.5,872.8 720.5,872 728.5,866.5 736.5,858.9 744.5,867.7 752.5,850.8 760.5,850.8 768.5,850.8 776.5,845.8 784.5,851.8 792.5,853.1 800.5,848.1 808.5,854.5 816.5,858.4 824.5,863.9 832.5,864.7 840.5,861.9 848.5,872.8 856.5,863.2 864.5,853.9 872.5,840.7 880.5,843 888.5,851.3 896.5,872.8 904.5,874.8 912.5,871.5 920.5,860.9 928.5,855.9 936.5,859.5 944.5,848.8 952.5,850.1 960.5,853.1 968.5,847.5 976.5,833.5 984.5,829.5 992.5,816.5 1000.5,811.5 1008.5,815.5 1016.5,816 1024.5,822.8 1032.5,813.5 1040.5,807.2 1048.5,806 1056.5,806.5 1064.5,805.2 1072.5,803.9 1080.5,803.5 1088.5,801.5 1096.5,801.5 1104.5,803.5 1112.5,809 1120.5,808 1128.5,817.3 1136.5,822.8 1144.5,826.9 1152.5,837.5 1160.5,827.9 1168.5,824.9 1176.5,828.1 1184.5,831.9 1192.5,835.7 1200.5,829.9 1208.5,821.8 1216.5,819.8 1224.5,825.5 1232.5,821.8 1240.5,838 1248.5,830.5 1256.5,831.5 1264.5,827.4 1272.5,822.3 1280.5,818.1 1288.5,814 1296.5,835.7 1304.5,835.7 1312.5,846.8 1320.5,848.8 1328.5,840 1336.5,839.5 1344.5,841.8" fill="none" stroke="#1e90ff" stroke-width="1" />
<g shape-rendering="crispEdges">
<rect x="0" y="0" width="1666" height="22" fill="#f0f0f0" />
<rect x="0" y="22" width="1666" height="1" fill="#b8b8b8" />
<rect x="0" y="23" width="1666" height="1" fill="#8c8c8c" />
<rect x="0" y="24" width="1666" height="2" fill="#ffffff" />
<rect x="0" y="26" width="1620" height="1" fill="#000" />
<rect x="1619" y="26" width="1" height="902" fill="#000" />
<rect x="0" y="579" width="1620" height="1" fill="#000" />
<rect x="0" y="580" width="1666" height="1" fill="#fff" />
<rect x="0" y="581" width="1620" height="1" fill="#000" />
<rect x="0" y="751" width="1620" height="1" fill="#000" />
<rect x="0" y="752" width="1666" height="1" fill="#fff" />
<rect x="0" y="753" width="1620" height="1" fill="#000" />
<rect x="0" y="927" width="1620" height="1" fill="#000" />
<rect x="1665" y="22" width="1" height="923" fill="#e3e3e3" />
<rect x="1620" y="583" width="2" height="1" fill="#000" />
<rect x="1620" y="673" width="2" height="1" fill="#000" />
<rect x="1620" y="750" width="2" height="1" fill="#000" />
<rect x="1620" y="755" width="2" height="1" fill="#000" />
<rect x="1620" y="789" width="2" height="1" fill="#000" />
<rect x="1620" y="840" width="2" height="1" fill="#000" />
<rect x="1620" y="901" width="2" height="1" fill="#000" />
<rect x="1620" y="926" width="2" height="1" fill="#000" />
<rect x="0" y="928" width="1" height="3" fill="#000" />
<rect x="64" y="928" width="1" height="3" fill="#000" />
<rect x="128" y="928" width="1" height="3" fill="#000" />
<rect x="192" y="928" width="1" height="3" fill="#000" />
<rect x="256" y="928" width="1" height="3" fill="#000" />
<rect x="320" y="928" width="1" height="3" fill="#000" />
<rect x="384" y="928" width="1" height="3" fill="#000" />
<rect x="448" y="928" width="1" height="3" fill="#000" />
<rect x="512" y="928" width="1" height="3" fill="#000" />
<rect x="576" y="928" width="1" height="3" fill="#000" />
<rect x="640" y="928" width="1" height="3" fill="#000" />
<rect x="704" y="928" width="1" height="3" fill="#000" />
<rect x="768" y="928" width="1" height="3" fill="#000" />
<rect x="832" y="928" width="1" height="3" fill="#000" />
<rect x="896" y="928" width="1" height="3" fill="#000" />
<rect x="960" y="928" width="1" height="3" fill="#000" />
<rect x="1024" y="928" width="1" height="3" fill="#000" />
<rect x="1088" y="928" width="1" height="3" fill="#000" />
<rect x="1152" y="928" width="1" height="3" fill="#000" />
<rect x="1216" y="928" width="1" height="3" fill="#000" />
<rect x="1280" y="928" width="1" height="3" fill="#000" />
<rect x="1344" y="928" width="1" height="3" fill="#000" />
</g>
<g shape-rendering="crispEdges" fill="#fff">
<rect x="0.5" y="101.5" width="4" height="4" stroke="#ff0000" fill="#fff"/>
<rect x="1614.5" y="101.5" width="4" height="4" stroke="#ff0000" fill="#fff"/>
<rect x="0.5" y="117.5" width="4" height="4" stroke="#ff0000" fill="#fff"/>
<rect x="1614.5" y="117.5" width="4" height="4" stroke="#ff0000" fill="#fff"/>
<rect x="0.5" y="136.5" width="4" height="4" stroke="#32cd32" fill="#fff"/>
<rect x="1614.5" y="136.5" width="4" height="4" stroke="#32cd32" fill="#fff"/>
<rect x="0.5" y="169.5" width="4" height="4" stroke="#0000ff" fill="#fff"/>
<rect x="1614.5" y="169.5" width="4" height="4" stroke="#0000ff" fill="#fff"/>
<rect x="0.5" y="189.5" width="4" height="4" stroke="#0000ff" fill="#fff"/>
<rect x="1614.5" y="189.5" width="4" height="4" stroke="#0000ff" fill="#fff"/>
</g>
<g shape-rendering="crispEdges">
<rect x="1620" y="48" width="2" height="1" fill="#000" />
<rect x="1620" y="81" width="2" height="1" fill="#000" />
<rect x="1620" y="114" width="2" height="1" fill="#000" />
<rect x="1620" y="147" width="2" height="1" fill="#000" />
<rect x="1620" y="180" width="2" height="1" fill="#000" />
<rect x="1620" y="213" width="2" height="1" fill="#000" />
<rect x="1620" y="246" width="2" height="1" fill="#000" />
<rect x="1620" y="279" width="2" height="1" fill="#000" />
<rect x="1620" y="312" width="2" height="1" fill="#000" />
<rect x="1620" y="345" width="2" height="1" fill="#000" />
<rect x="1620" y="378" width="2" height="1" fill="#000" />
<rect x="1620" y="411" width="2" height="1" fill="#000" />
<rect x="1620" y="444" width="2" height="1" fill="#000" />
<rect x="1620" y="477" width="2" height="1" fill="#000" />
<rect x="1620" y="510" width="2" height="1" fill="#000" />
<rect x="1620" y="543" width="2" height="1" fill="#000" />
<rect x="1620" y="576" width="2" height="1" fill="#000" />
</g>
<text transform="translate(1625.8,52) scale(0.9573,1)" font-size="9.5" fill="#000" >110.315</text>
<text transform="translate(1625.8,85) scale(0.9573,1)" font-size="9.5" fill="#000" >110.145</text>
<text transform="translate(1625.8,118) scale(0.9377,1)" font-size="9.5" fill="#000" >109.975</text>
<text transform="translate(1625.8,151) scale(0.9377,1)" font-size="9.5" fill="#000" >109.800</text>
<text transform="translate(1625.8,184) scale(0.9377,1)" font-size="9.5" fill="#000" >109.630</text>
<text transform="translate(1625.8,217) scale(0.9377,1)" font-size="9.5" fill="#000" >109.460</text>
<text transform="translate(1625.8,250) scale(0.9377,1)" font-size="9.5" fill="#000" >109.290</text>
<text transform="translate(1625.8,283) scale(0.9377,1)" font-size="9.5" fill="#000" >109.120</text>
<text transform="translate(1625.8,316) scale(0.9377,1)" font-size="9.5" fill="#000" >108.950</text>
<text transform="translate(1625.8,349) scale(0.9377,1)" font-size="9.5" fill="#000" >108.780</text>
<text transform="translate(1625.8,382) scale(0.9377,1)" font-size="9.5" fill="#000" >108.605</text>
<text transform="translate(1625.8,415) scale(0.9377,1)" font-size="9.5" fill="#000" >108.435</text>
<text transform="translate(1625.8,448) scale(0.9377,1)" font-size="9.5" fill="#000" >108.265</text>
<text transform="translate(1625.8,481) scale(0.9377,1)" font-size="9.5" fill="#000" >108.095</text>
<text transform="translate(1625.8,514) scale(0.9377,1)" font-size="9.5" fill="#000" >107.925</text>
<text transform="translate(1625.8,547) scale(0.9377,1)" font-size="9.5" fill="#000" >107.755</text>
<text transform="translate(1625.8,580) scale(0.9377,1)" font-size="9.5" fill="#000" >107.585</text>
<rect x="1621" y="97" width="41" height="11" fill="#ff0000" shape-rendering="crispEdges"/>
<text transform="translate(1625.8,106.3) scale(0.9573,1)" font-size="9.5" fill="#fff" >110.028</text>
<rect x="1621" y="113" width="41" height="11" fill="#ff0000" shape-rendering="crispEdges"/>
<text transform="translate(1625.8,122.3) scale(0.9377,1)" font-size="9.5" fill="#fff" >109.945</text>
<rect x="1621" y="132" width="41" height="11" fill="#32cd32" shape-rendering="crispEdges"/>
<text transform="translate(1625.8,141.3) scale(0.9377,1)" font-size="9.5" fill="#fff" >109.847</text>
<rect x="1621" y="145.5" width="41" height="11" fill="#000000" shape-rendering="crispEdges"/>
<text transform="translate(1625.8,154.8) scale(0.9377,1)" font-size="9.5" fill="#fff" >109.781</text>
<rect x="1621" y="165" width="41" height="11" fill="#0000ff" shape-rendering="crispEdges"/>
<text transform="translate(1625.8,174.3) scale(0.9377,1)" font-size="9.5" fill="#fff" >109.677</text>
<rect x="1621" y="185" width="41" height="11" fill="#0000ff" shape-rendering="crispEdges"/>
<text transform="translate(1625.8,194.3) scale(0.9377,1)" font-size="9.5" fill="#fff" >109.573</text>
<text transform="translate(1623,592) scale(0.94,1)" font-size="9.5" fill="#000" >0.34</text>
<text transform="translate(1623,677) scale(0.94,1)" font-size="9.5" fill="#000" >0.00</text>
<text transform="translate(1623,748) scale(0.94,1)" font-size="9.5" fill="#000" >-0.2893</text>
<text transform="translate(1623,764) scale(0.94,1)" font-size="9.5" fill="#000" >100</text>
<text transform="translate(1623,793) scale(0.94,1)" font-size="9.5" fill="#000" >80</text>
<text transform="translate(1623,844) scale(0.94,1)" font-size="9.5" fill="#000" >50</text>
<text transform="translate(1623,905) scale(0.94,1)" font-size="9.5" fill="#000" >15</text>
<text transform="translate(1623,924) scale(0.94,1)" font-size="9.5" fill="#000" >0</text>
<text transform="translate(-1.3,939.7) scale(0.965,1)" font-size="9.5" fill="#000" >6 Jan 2020</text>
<text transform="translate(62.7,939.7) scale(0.965,1)" font-size="9.5" fill="#000" >8 Jan 04:00</text>
<text transform="translate(126.7,939.7) scale(0.965,1)" font-size="9.5" fill="#000" >9 Jan 12:00</text>
<text transform="translate(190.7,939.7) scale(0.965,1)" font-size="9.5" fill="#000" >12 Jan 23:00</text>
<text transform="translate(254.7,939.7) scale(0.965,1)" font-size="9.5" fill="#000" >14 Jan 04:00</text>
<text transform="translate(318.7,939.7) scale(0.965,1)" font-size="9.5" fill="#000" >15 Jan 12:00</text>
<text transform="translate(382.7,939.7) scale(0.965,1)" font-size="9.5" fill="#000" >16 Jan 20:00</text>
<text transform="translate(446.7,939.7) scale(0.965,1)" font-size="9.5" fill="#000" >20 Jan 04:00</text>
<text transform="translate(510.7,939.7) scale(0.965,1)" font-size="9.5" fill="#000" >21 Jan 12:00</text>
<text transform="translate(574.7,939.7) scale(0.965,1)" font-size="9.5" fill="#000" >22 Jan 20:00</text>
<text transform="translate(638.7,939.7) scale(0.965,1)" font-size="9.5" fill="#000" >24 Jan 04:00</text>
<text transform="translate(702.7,939.7) scale(0.965,1)" font-size="9.5" fill="#000" >27 Jan 12:00</text>
<text transform="translate(766.7,939.7) scale(0.965,1)" font-size="9.5" fill="#000" >28 Jan 20:00</text>
<text transform="translate(830.7,939.7) scale(0.965,1)" font-size="9.5" fill="#000" >30 Jan 04:00</text>
<text transform="translate(894.7,939.7) scale(0.965,1)" font-size="9.5" fill="#000" >31 Jan 12:00</text>
<text transform="translate(958.7,939.7) scale(0.965,1)" font-size="9.5" fill="#000" >3 Feb 20:00</text>
<text transform="translate(1022.7,939.7) scale(0.965,1)" font-size="9.5" fill="#000" >5 Feb 04:00</text>
<text transform="translate(1086.7,939.7) scale(0.965,1)" font-size="9.5" fill="#000" >6 Feb 12:00</text>
<text transform="translate(1150.7,939.7) scale(0.965,1)" font-size="9.5" fill="#000" >9 Feb 23:00</text>
<text transform="translate(1214.7,939.7) scale(0.965,1)" font-size="9.5" fill="#000" >11 Feb 04:00</text>
<text transform="translate(1278.7,939.7) scale(0.965,1)" font-size="9.5" fill="#000" >12 Feb 12:00</text>
<text transform="translate(1342.7,939.7) scale(0.965,1)" font-size="9.5" fill="#000" >13 Feb 20:00</text>
<text transform="translate(4.5,594) scale(0.9815,1)" font-size="9.5" fill="#000" >MACD(12,26,9) 0.0279 0.0644</text>
<text transform="translate(4.5,766) scale(0.9582,1)" font-size="9.5" fill="#000" >RSI(14) 49.7281</text>
<line x1="1456" y1="138.5" x2="1467" y2="138.5" stroke="#ff0000" shape-rendering="crispEdges"/>
<rect x="1464.5" y="136.5" width="2" height="4" fill="#fff" stroke="#ff0000" shape-rendering="crispEdges"/>
<rect x="1467.5" y="126.5" width="73" height="24" fill="#fff" stroke="#ff0000" shape-rendering="crispEdges"/>
<text x="1469.2" y="147" font-size="22.6" fill="#ff0000" textLength="71" lengthAdjust="spacingAndGlyphs">109.847</text>
<text x="1410.8" y="193" font-size="32.9" font-weight="bold" fill="#0a5a20" font-family="'Liberation Serif','Noto Serif CJK SC',serif" textLength="164.5" lengthAdjust="spacingAndGlyphs">多空转折点</text>
<text x="1411.8" y="192" font-size="32.9" font-weight="bold" fill="#00ff00" font-family="'Liberation Serif','Noto Serif CJK SC',serif" textLength="164.5" lengthAdjust="spacingAndGlyphs">多空转折点</text>
<polygon points="3,37.3 10,37.3 6.5,33.7" fill="#000"/>
<text transform="translate(15,38) scale(0.9775,1)" font-size="9.5" fill="#000" >USDJPY-,H4&#160;&#160;109.799 109.815 109.760 109.781</text>
<g shape-rendering="crispEdges">
<rect x="3" y="46" width="219" height="64" fill="#fff" />
<rect x="3" y="46" width="52" height="24" fill="url(#pt)" />
<rect x="170" y="46" width="52" height="24" fill="url(#pt)" />
<rect x="3" y="70" width="109" height="40" fill="url(#pb)" />
<rect x="114" y="70" width="108" height="40" fill="url(#pb)" />
<rect x="7" y="69" width="44" height="1" fill="#9a9af8" />
<rect x="174" y="69" width="44" height="1" fill="#9a9af8" />
<rect x="57" y="46" width="111" height="22" fill="#bdbdbd" />
<rect x="58" y="47" width="109" height="20" fill="#fff" />
<rect x="58" y="47" width="20" height="20" fill="url(#bt)" />
<rect x="147" y="47" width="20" height="20" fill="url(#bt)" />
<rect x="78" y="47" width="1" height="20" fill="#bdbdbd" />
<rect x="146" y="47" width="1" height="20" fill="#bdbdbd" />
</g>
<polygon points="64.5,55 71,55 67.7,58.5" fill="#4a5a9a"/>
<polygon points="153,58.5 159.5,58.5 156.2,55" fill="#4a5a9a"/>
<text x="16" y="62" font-size="12" fill="#fff" textLength="25" lengthAdjust="spacingAndGlyphs">SELL</text>
<text x="183.5" y="62" font-size="12" fill="#fff" textLength="23" lengthAdjust="spacingAndGlyphs">BUY</text>
<text x="119.5" y="61" font-size="13" fill="#000" textLength="23" lengthAdjust="spacingAndGlyphs">1.00</text>
<text x="26.5" y="100.7" font-size="11.5" fill="#fff" font-weight="bold" textLength="20.5" lengthAdjust="spacingAndGlyphs">109</text>
<text x="50.6" y="100.9" font-size="34" fill="#fff" textLength="35.2" lengthAdjust="spacingAndGlyphs" stroke="url(#pbu)" stroke-width="0.55">78</text>
<text x="90" y="85" font-size="10" fill="#fff" font-weight="bold">1</text>
<text x="136.5" y="100.7" font-size="11.5" fill="#fff" font-weight="bold" textLength="20.5" lengthAdjust="spacingAndGlyphs">109</text>
<text x="160.6" y="100.9" font-size="34" fill="#fff" textLength="35.7" lengthAdjust="spacingAndGlyphs" stroke="url(#pbu)" stroke-width="0.55">79</text>
<text x="201" y="85" font-size="10" fill="#fff" font-weight="bold">7</text>
<path d="M-1 4h2l1 1.500v4h-3z" fill="#fdfdfd" stroke="#999" stroke-width="0.8"/>
<path d="M-1 8.600h3.600v4.300h3.400v3.900h-3.400v3h-3.600z" fill="#2cc82c" stroke="#0f8a0f" stroke-width="0.9"/>
<text x="8.800" y="13.400" font-size="12.200" fill="#000" font-family="'Liberation Sans','Noto Sans CJK SC',sans-serif" textLength="36.200" lengthAdjust="spacingAndGlyphs">新订单</text>
<path d="M57.100 12.200L62.400 3.300L73 11.500L72.600 13.300L64.600 17.900Z" fill="#d29a18" stroke="#96600c" stroke-width="0.9" stroke-linejoin="round"/><path d="M58.400 11.800L62.800 4.600L71.600 11.400L64.300 15.600Z" fill="#efc838"/><path d="M58 13.200L64.500 17L72.500 12.400" stroke="#fff3c0" stroke-width="0.9" fill="none"/>
<path d="M87.500 4L90 2.600H97.500V11.500H87.500Z" fill="#2a96f2" stroke="#1a70c8" stroke-width="0.7"/><path d="M90.500 5.500h6v1.200h-6zM90.500 8h6v1.200h-6z" fill="#bfe0ff"/><path d="M88.500 17.600a3 3 0 0 1 -.6-5.900a3.600 3.600 0 0 1 6.400-1.300a3 3 0 0 1 4 2.400a2.500 2.500 0 0 1 -.7 4.800z" fill="#e9f0fb" stroke="#5f80b8" stroke-width="0.9"/>
<circle cx="120.800" cy="9.900" r="7.300" fill="none" stroke="#9db8e6" stroke-width="1.100"/><circle cx="120.800" cy="9.900" r="4.900" fill="none" stroke="#7e9fdc" stroke-width="1.100"/><circle cx="120.800" cy="9.900" r="2.500" fill="none" stroke="#5f86d4" stroke-width="1.100"/><path d="M120.800 17.200A7.300 7.300 0 0 0 128.100 9.900" fill="none" stroke="#6fbf7a" stroke-width="1.200"/><path d="M120.800 14.800A4.900 4.900 0 0 0 125.700 9.900" fill="none" stroke="#58b866" stroke-width="1.200"/><circle cx="120.800" cy="9.600" r="1.500" fill="#2c62c8"/><path d="M121 10.500V17.800" stroke="#18a018" stroke-width="1.500"/>
<path d="M140.600 9.200H155.400L150.500 15.500L147 17.300Z" fill="#f4d23c" stroke="#c09a18" stroke-width="0.7"/><ellipse cx="148" cy="7.400" rx="7.800" ry="2.700" fill="#4ba0dc" stroke="#2b78b4" stroke-width="0.7"/><path d="M144 7.200C144 1 152 1 152 7.200Z" fill="#6cb8e8" stroke="#2b78b4" stroke-width="0.7"/><circle cx="152.300" cy="13.900" r="4" fill="#e02a10" stroke="#b01c08" stroke-width="0.500"/><rect x="150.700" y="12.300" width="3.300" height="3.300" fill="#fff"/>
<text x="161.600" y="13.400" font-size="12.200" fill="#000" font-family="'Liberation Sans','Noto Sans CJK SC',sans-serif" textLength="47.300" lengthAdjust="spacingAndGlyphs">自动交易</text>
<rect x="216" y="1" width="1" height="21" fill="#a8a8a8" shape-rendering="crispEdges"/>
<rect x="217" y="1" width="1" height="21" fill="#fcfcfc" shape-rendering="crispEdges"/>
<rect x="220" y="2" width="3" height="1" fill="#b4b4b4" shape-rendering="crispEdges"/>
<rect x="220" y="4" width="3" height="1" fill="#b4b4b4" shape-rendering="crispEdges"/>
<rect x="220" y="6" width="3" height="1" fill="#b4b4b4" shape-rendering="crispEdges"/>
<rect x="220" y="8" width="3" height="1" fill="#b4b4b4" shape-rendering="crispEdges"/>
<rect x="220" y="10" width="3" height="1" fill="#b4b4b4" shape-rendering="crispEdges"/>
<rect x="220" y="12" width="3" height="1" fill="#b4b4b4" shape-rendering="crispEdges"/>
<rect x="220" y="14" width="3" height="1" fill="#b4b4b4" shape-rendering="crispEdges"/>
<rect x="220" y="16" width="3" height="1" fill="#b4b4b4" shape-rendering="crispEdges"/>
<rect x="220" y="18" width="3" height="1" fill="#b4b4b4" shape-rendering="crispEdges"/>
<path d="M234.5 4.3V17.800M232 15.600H245" stroke="#5a5a5a" stroke-width="1.05" fill="none"/><path d="M233 6.100L234.5 3.900L236 6.100M243.6 14.100L245.8 15.600L243.6 17.100" stroke="#5a5a5a" stroke-width="1" fill="none"/>
<path d="M240.500 5.300V13.500M240.500 6.400H243.200M238 12.400H240.500" stroke="#109010" stroke-width="1.500" fill="none"/>
<rect x="254" y="1" width="1" height="21" fill="#a8a8a8" shape-rendering="crispEdges"/>
<rect x="255" y="1" width="1" height="21" fill="#fcfcfc" shape-rendering="crispEdges"/>
<rect x="256" y="0" width="23" height="22" fill="#f8f8f8" shape-rendering="crispEdges"/>
<path d="M262.5 4.3V17.800M260 15.600H273" stroke="#5a5a5a" stroke-width="1.05" fill="none"/><path d="M261 6.100L262.5 3.900L264 6.100M271.6 14.100L273.8 15.600L271.6 17.100" stroke="#5a5a5a" stroke-width="1" fill="none"/>
<path d="M268.500 2.300V13.500" stroke="#109010" stroke-width="1.200"/><rect x="266.300" y="4.500" width="4.400" height="7.300" fill="#58e058" stroke="#109010" stroke-width="0.900"/>
<path d="M290.5 4.3V17.800M288 15.600H301" stroke="#5a5a5a" stroke-width="1.05" fill="none"/><path d="M289 6.100L290.5 3.900L292 6.100M299.6 14.100L301.8 15.600L299.6 17.100" stroke="#5a5a5a" stroke-width="1" fill="none"/>
<path d="M289.300 12.500C292 10 293.500 6.900 295.200 6.900C297 6.900 298.500 10 300.800 11.200" stroke="#209020" stroke-width="1.300" fill="none"/>
<rect x="311" y="1" width="1" height="21" fill="#a8a8a8" shape-rendering="crispEdges"/>
<rect x="312" y="1" width="1" height="21" fill="#fcfcfc" shape-rendering="crispEdges"/>
<path d="M330.0 12.300L335.1 16.600" stroke="#9a7410" stroke-width="3.600" stroke-linecap="round"/><path d="M330.0 12.300L335.1 16.600" stroke="#f0cc40" stroke-width="2.200" stroke-linecap="round"/><circle cx="325.8" cy="7.900" r="5.300" fill="#d6eefc" stroke="#2f7fd0" stroke-width="1.400"/><path d="M322.6 7.900h6.400" stroke="#3a8cc0" stroke-width="1.700"/>
<path d="M325.8 4.700v6.400" stroke="#3a8cc0" stroke-width="1.700"/>
<path d="M358.09999999999997 12.300L363.2 16.600" stroke="#9a7410" stroke-width="3.600" stroke-linecap="round"/><path d="M358.09999999999997 12.300L363.2 16.600" stroke="#f0cc40" stroke-width="2.200" stroke-linecap="round"/><circle cx="353.9" cy="7.900" r="5.300" fill="#d6eefc" stroke="#2f7fd0" stroke-width="1.400"/><path d="M350.7 7.900h6.400" stroke="#3a8cc0" stroke-width="1.700"/>
<rect x="376" y="2" width="8" height="7.8" fill="#2ea01c" />
<path d="M377.2 9.3v-3q0-.8.800-.8h4q.8 0 .8.800v3z" fill="#fff"/><rect x="378.2" y="6.8" width="3.600" height="1" fill="#cfeec8"/><rect x="377" y="3" width="1" height="1" fill="#cfeec8"/>
<rect x="384.2" y="2" width="8" height="7.8" fill="#2050d0" />
<path d="M385.4 9.3v-3q0-.8.800-.8h4q.8 0 .8.800v3z" fill="#fff"/><rect x="386.4" y="6.8" width="3.600" height="1" fill="#d4e0fb"/><rect x="385.2" y="3" width="1" height="1" fill="#d4e0fb"/>
<rect x="376" y="10" width="8" height="7.8" fill="#2050d0" />
<path d="M377.2 17.3v-3q0-.8.800-.8h4q.8 0 .8.800v3z" fill="#fff"/><rect x="378.2" y="14.8" width="3.600" height="1" fill="#d4e0fb"/><rect x="377" y="11" width="1" height="1" fill="#d4e0fb"/>
<rect x="384.2" y="10" width="8" height="7.8" fill="#2ea01c" />
<path d="M385.4 17.3v-3q0-.8.800-.8h4q.8 0 .8.800v3z" fill="#fff"/><rect x="386.4" y="14.8" width="3.600" height="1" fill="#cfeec8"/><rect x="385.2" y="11" width="1" height="1" fill="#cfeec8"/>
<rect x="401" y="1" width="1" height="21" fill="#a8a8a8" shape-rendering="crispEdges"/>
<rect x="402" y="1" width="1" height="21" fill="#fcfcfc" shape-rendering="crispEdges"/>
<rect x="406" y="1" width="1" height="21" fill="#a8a8a8" shape-rendering="crispEdges"/>
<rect x="407" y="1" width="1" height="21" fill="#fcfcfc" shape-rendering="crispEdges"/>
<rect x="407" y="0" width="24" height="22" fill="#f8f8f8" shape-rendering="crispEdges"/>
<path d="M414.5 4.3V17.800M412 15.600H425" stroke="#5a5a5a" stroke-width="1.05" fill="none"/><path d="M413 6.100L414.5 3.900L416 6.100M423.6 14.100L425.8 15.600L423.6 17.100" stroke="#5a5a5a" stroke-width="1" fill="none"/>
<polygon points="419.100,6.300 419.100,12.900 423,9.600" fill="#7ee07e" stroke="#18a018" stroke-width="1"/>
<rect x="434" y="1" width="1" height="21" fill="#a8a8a8" shape-rendering="crispEdges"/>
<rect x="435" y="1" width="1" height="21" fill="#fcfcfc" shape-rendering="crispEdges"/>
<rect x="435" y="0" width="24" height="22" fill="#f8f8f8" shape-rendering="crispEdges"/>
<path d="M442.5 4.3V17.800M440 15.600H453" stroke="#5a5a5a" stroke-width="1.05" fill="none"/><path d="M441 6.100L442.5 3.900L444 6.100M451.6 14.100L453.8 15.600L451.6 17.100" stroke="#5a5a5a" stroke-width="1" fill="none"/>
<path d="M448.500 4V13.900" stroke="#2070b0" stroke-width="1.300"/><path d="M454 9.600H450" stroke="#e05010" stroke-width="1.200"/><polygon points="449.300,9.600 452,7.400 452,11.800" fill="#e05010"/>
<rect x="463" y="1" width="1" height="21" fill="#a8a8a8" shape-rendering="crispEdges"/>
<rect x="464" y="1" width="1" height="21" fill="#fcfcfc" shape-rendering="crispEdges"/>
<path d="M473.500 2.500h8.500l3 3v10.300h-11.500z" fill="#fdfdfd" stroke="#9a9a9a" stroke-width="0.900"/><path d="M482 2.500v3h3" fill="none" stroke="#9a9a9a" stroke-width="0.800"/><path d="M476.500 5v7" stroke="#777" stroke-width="1"/>
<path d="M481.300 8.600h3.400v3.600h3.800v3.400h-3.800v3.700h-3.400v-3.700h-3.800v-3.400h3.800z" fill="#30d030" stroke="#109010" stroke-width="0.800"/>
<polygon points="494.8,9 500.40000000000003,9 497.6,12.2" fill="#000"/>
<circle cx="519.100" cy="9.900" r="7" fill="#f4f7fd" stroke="#1060d0" stroke-width="2.400"/><circle cx="519.100" cy="9.900" r="8.200" fill="none" stroke="#0a48a8" stroke-width="0.500"/><path d="M518.600 5.500V10.200H522" stroke="#333" stroke-width="1.200" fill="none"/>
<polygon points="534,9 539.6,9 536.8,12.2" fill="#000"/>
<rect x="550.700" y="3.500" width="15" height="13" fill="#fff" stroke="#3070c0" stroke-width="1.100"/><rect x="550.200" y="3" width="16" height="2.700" fill="#4a88d8"/><path d="M551 11.200h14.500" stroke="#3070c0" stroke-width="0.900"/><path d="M552.500 9.300l2-.2 2-1.600 2 1 2-.2 2.200-1.200" stroke="#b02810" stroke-width="1.200" fill="none"/><path d="M553 14.500l2-1 2 .6 2.300-2.100 2.200 2.300" stroke="#109020" stroke-width="1.200" fill="none"/>
<polygon points="573,9 578.6,9 575.8,12.2" fill="#000"/>
<rect x="584" y="1" width="1" height="21" fill="#a8a8a8" shape-rendering="crispEdges"/>
<rect x="585" y="1" width="1" height="21" fill="#fcfcfc" shape-rendering="crispEdges"/>
<rect x="588" y="2" width="3" height="1" fill="#b4b4b4" shape-rendering="crispEdges"/>
<rect x="588" y="4" width="3" height="1" fill="#b4b4b4" shape-rendering="crispEdges"/>
<rect x="588" y="6" width="3" height="1" fill="#b4b4b4" shape-rendering="crispEdges"/>
<rect x="588" y="8" width="3" height="1" fill="#b4b4b4" shape-rendering="crispEdges"/>
<rect x="588" y="10" width="3" height="1" fill="#b4b4b4" shape-rendering="crispEdges"/>
<rect x="588" y="12" width="3" height="1" fill="#b4b4b4" shape-rendering="crispEdges"/>
<rect x="588" y="14" width="3" height="1" fill="#b4b4b4" shape-rendering="crispEdges"/>
<rect x="588" y="16" width="3" height="1" fill="#b4b4b4" shape-rendering="crispEdges"/>
<rect x="588" y="18" width="3" height="1" fill="#b4b4b4" shape-rendering="crispEdges"/>
<rect x="594" y="1" width="1" height="21" fill="#a8a8a8" shape-rendering="crispEdges"/>
<rect x="595" y="1" width="1" height="21" fill="#fcfcfc" shape-rendering="crispEdges"/>
<rect x="595" y="0" width="24" height="22" fill="#f8f8f8" shape-rendering="crispEdges"/>
<path d="M602.200 3.200V14.500L604.900 12.200L607.300 17.200L609.300 16.200L607 11.400L610.200 10.900Z" fill="#444"/>
<path d="M634.600 3.200V9M634.600 11.800V18M626.900 10.400H633.200M636 10.400H642" stroke="#444" stroke-width="1.1"/><rect x="634.1" y="9.9" width="1" height="1" fill="#444"/>
<rect x="651" y="1" width="1" height="21" fill="#a8a8a8" shape-rendering="crispEdges"/>
<rect x="652" y="1" width="1" height="21" fill="#fcfcfc" shape-rendering="crispEdges"/>
<path d="M668.600 4V16.700" stroke="#444" stroke-width="1.200"/><path d="M690.800 10.400H703" stroke="#444" stroke-width="1.100"/><path d="M718.700 16.700L730.900 5" stroke="#555" stroke-width="1.100"/>
<path d="M745 13.500L757.500 4.500M746.500 16L759 7M748.500 17.500L758.500 10.500M750.500 7.500L752.500 15.500M755 4L757 12" stroke="#555" stroke-width="0.900" fill="none"/>
<text x="755.6" y="18.7" font-size="6.5" fill="#222" font-weight="bold">E</text>
<path d="M774 3.7H787.400" stroke="#555" stroke-width="1" stroke-dasharray="1 1"/>
<path d="M774 6.5H787.400" stroke="#555" stroke-width="1" stroke-dasharray="1 1"/>
<path d="M774 10H787.400" stroke="#555" stroke-width="1" stroke-dasharray="1 1"/>
<path d="M774 14.400H787.400" stroke="#555" stroke-width="1" stroke-dasharray="1 1"/>
<text x="783.8" y="18.7" font-size="6.5" fill="#222" font-weight="bold">F</text>
<text x="804.2" y="14.9" font-size="12" fill="#555" font-weight="bold" textLength="8.500" lengthAdjust="spacingAndGlyphs">A</text>
<rect x="831.500" y="4.300" width="11" height="12.200" fill="none" stroke="#666" stroke-width="1" stroke-dasharray="1 1"/>
<text x="833" y="14.9" font-size="10.8" fill="#555" font-weight="bold" textLength="8" lengthAdjust="spacingAndGlyphs">T</text>
<polygon points="857.900,6.700 861.300,3.600 864.700,6.700 861.300,9.800" fill="#444"/><polygon points="865.600,13.900 869,10.800 872.400,13.900 869,17" fill="#444"/><path d="M859.500 10.500L862 13L866.500 7.500" stroke="#444" stroke-width="1.300" fill="none"/>
<polygon points="878.7,9 884.3000000000001,9 881.5,12.2" fill="#000"/>
<rect x="890" y="1" width="1" height="21" fill="#a8a8a8" shape-rendering="crispEdges"/>
<rect x="891" y="1" width="1" height="21" fill="#fcfcfc" shape-rendering="crispEdges"/>
<rect x="894" y="2" width="3" height="1" fill="#b4b4b4" shape-rendering="crispEdges"/>
<rect x="894" y="4" width="3" height="1" fill="#b4b4b4" shape-rendering="crispEdges"/>
<rect x="894" y="6" width="3" height="1" fill="#b4b4b4" shape-rendering="crispEdges"/>
<rect x="894" y="8" width="3" height="1" fill="#b4b4b4" shape-rendering="crispEdges"/>
<rect x="894" y="10" width="3" height="1" fill="#b4b4b4" shape-rendering="crispEdges"/>
<rect x="894" y="12" width="3" height="1" fill="#b4b4b4" shape-rendering="crispEdges"/>
<rect x="894" y="14" width="3" height="1" fill="#b4b4b4" shape-rendering="crispEdges"/>
<rect x="894" y="16" width="3" height="1" fill="#b4b4b4" shape-rendering="crispEdges"/>
<rect x="894" y="18" width="3" height="1" fill="#b4b4b4" shape-rendering="crispEdges"/>
<rect x="1040" y="1" width="1" height="21" fill="#a8a8a8" shape-rendering="crispEdges"/>
<rect x="1041" y="1" width="1" height="21" fill="#fcfcfc" shape-rendering="crispEdges"/>
<rect x="1041" y="0" width="25" height="22" fill="#f8f8f8" shape-rendering="crispEdges"/>
<text x="905" y="14" font-size="9.5" fill="#333" textLength="13.7" lengthAdjust="spacingAndGlyphs">M1</text>
<text x="933.5" y="14" font-size="9.5" fill="#333" textLength="12.8" lengthAdjust="spacingAndGlyphs">M5</text>
<text x="959.6" y="14" font-size="9.5" fill="#333" textLength="17.4" lengthAdjust="spacingAndGlyphs">M15</text>
<text x="987.7" y="14" font-size="9.5" fill="#333" textLength="17.3" lengthAdjust="spacingAndGlyphs">M30</text>
<text x="1018" y="14" font-size="9.5" fill="#333" textLength="12" lengthAdjust="spacingAndGlyphs">H1</text>
<text x="1045" y="14" font-size="9.5" fill="#333" textLength="13" lengthAdjust="spacingAndGlyphs">H4</text>
<text x="1074.5" y="14" font-size="9.5" fill="#333" textLength="11.5" lengthAdjust="spacingAndGlyphs">D1</text>
<text x="1101.9" y="14" font-size="9.5" fill="#333" textLength="14.1" lengthAdjust="spacingAndGlyphs">W1</text>
<text x="1128.5" y="14" font-size="9.5" fill="#333" textLength="15.3" lengthAdjust="spacingAndGlyphs">MN</text>
<rect x="1151" y="1" width="1" height="21" fill="#a8a8a8" shape-rendering="crispEdges"/>
<rect x="1152" y="1" width="1" height="21" fill="#fcfcfc" shape-rendering="crispEdges"/>
<circle cx="1623.500" cy="7.500" r="3.800" fill="#eef4fd" stroke="#1f50c0" stroke-width="1.700"/><path d="M1620.800 10.600L1616.500 15.700" stroke="#1f50c0" stroke-width="2.400" stroke-linecap="round"/>
<path d="M1650 12.500a6.200 4.600 0 1 1 5 1l1.500 2.700l-4-2.400z" fill="#f6f6f6" stroke="#8c8c8c" stroke-width="1"/><path d="M1643 15.500l-1.200 2.800l3.700-2.200a5.800 4 0 1 0 -2.500-.6z" fill="#fbfbfb" stroke="#8c8c8c" stroke-width="1"/>
<polygon points="1354,27 1363,27 1358.5,32" fill="#c0c0c0"/>
</svg></body></html>
